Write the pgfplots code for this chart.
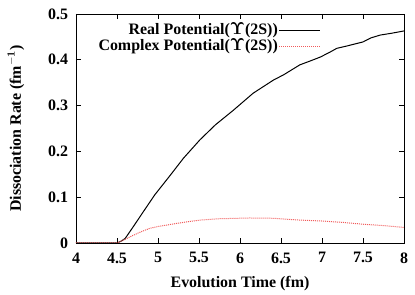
\documentclass[border=0pt]{standalone}
\usepackage{pgfplots}
\pgfplotsset{compat=1.18}
\usepackage[no-math]{fontspec}
\setmainfont{Liberation Serif}
\definecolor{cred}{RGB}{240,90,90}
\begin{document}
\begin{tikzpicture}
\begin{axis}[
  scale only axis, width=328bp, height=229bp,
  xmin=4, xmax=8, ymin=0, ymax=0.5,
  xtick={4,4.5,...,8}, ytick={0,0.1,...,0.5},
  xticklabels={4,4.5,5,5.5,6,6.5,7,7.5,8},
  yticklabels={0,0.1,0.2,0.3,0.4,0.5},
  tick align=inside, major tick length=5bp,
  tick style={black, line width=0.6pt},
  axis line style={line width=0.8pt},
  tick label style={font=\fontsize{16}{18}\selectfont\bfseries},
  xticklabel style={yshift=-6bp},
  yticklabel style={xshift=-4.5bp},
  label style={font=\fontsize{16}{18}\selectfont\bfseries},
  xlabel={Evolution Time (fm)},
  xlabel style={at={(axis description cs:0.5,0)}, anchor=base, yshift=-45bp},
  ylabel={Dissociation Rate (fm$^{\mathbf{-1}}$)},
  ylabel style={at={(axis description cs:-0.1677,0.5)}, anchor=base},
  legend style={draw=none, fill=none, inner sep=0pt, at={(0.747,0.965)}, anchor=north east,
    font=\fontsize{16}{18}\selectfont\bfseries, row sep=0pt, column sep=0pt,
    nodes={inner sep=1bp, text height=11bp, text depth=3bp}},
  legend cell align=right,
  legend plot pos=right,
  legend image code/.code={\draw[#1] (0bp,0bp) -- (41bp,0bp);},
]
\addplot[black, line width=1pt] coordinates {
(4,0) (4.5,0) (4.55,0.004) (4.6,0.01) (4.7,0.036) (4.82,0.068) (4.96,0.105)
(5.15,0.148) (5.31,0.185) (5.51,0.225) (5.70,0.258) (5.92,0.29)
(6.16,0.327) (6.41,0.356) (6.53,0.367) (6.73,0.389) (6.85,0.397)
(6.98,0.406) (7.1,0.417) (7.18,0.425) (7.3,0.43) (7.5,0.439) (7.6,0.448) (7.71,0.454) (7.85,0.458) (8,0.463)
};
\addlegendentry{Real Potential($\mathbf{\Upsilon}$(2S))}
\addplot[cred, densely dotted, line width=1pt] coordinates {
(4,0) (4.5,0) (4.6,0.008) (4.7,0.017) (4.8,0.025) (4.9,0.032) (5.0,0.036) (5.27,0.044)
(5.51,0.050) (5.75,0.053) (6.12,0.0546) (6.4,0.054) (6.73,0.050)
(7.0,0.048) (7.25,0.045) (7.5,0.041) (7.75,0.038) (8,0.034)
};
\addlegendentry{Complex Potential($\mathbf{\Upsilon}$(2S))}
\end{axis}
\path (-76bp,-51bp) rectangle (339bp,243bp);
\end{tikzpicture}
\end{document}
